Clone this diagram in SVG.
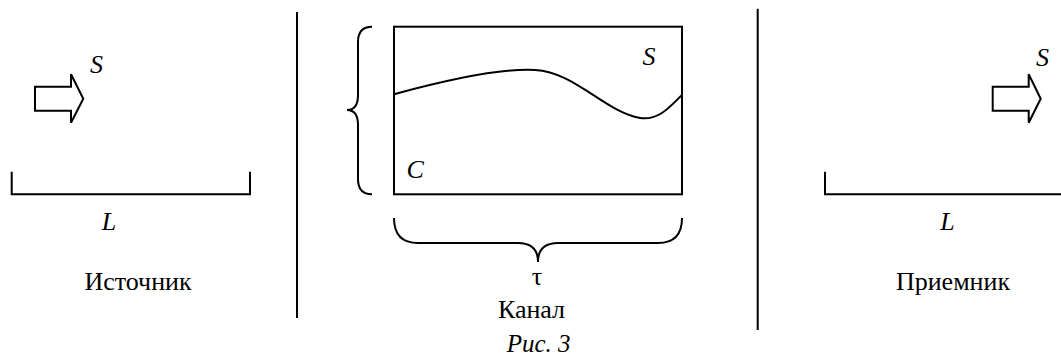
<svg xmlns="http://www.w3.org/2000/svg" width="1061" height="358" viewBox="0 0 1061 358">
<style>
.ln{fill:none;stroke:#000;stroke-width:2;stroke-linejoin:miter}
.ar{fill:#fff;stroke:#000;stroke-width:2;stroke-linejoin:miter}
.i{font-style:italic}
</style>
<rect width="1061" height="358" fill="#fff"/>
<g font-family="'Liberation Serif', 'Times New Roman', 'DejaVu Serif', serif" font-size="26" fill="#000">
<g id="source">
<polygon class="ar" points="35,86.7 71,86.7 71,74.3 83.3,98.7 71,122.7 71,110.7 35,110.7"/>
<text class="i" x="90" y="73">S</text>
<path class="ln" d="M11.7,171.7 V194.3 H250 V171.7"/>
<text class="i" x="109" y="230" text-anchor="middle">L</text>
<text x="138" y="290" text-anchor="middle">Источник</text>
</g>
<g id="channel">
<rect class="ln" x="394" y="26.7" width="288" height="167.6"/>
<path class="ln" d="M394,94.3 C450,79 500,68 535,70 C575,72 605,112 640,118 C660,121 672,104 682,95"/>
<text class="i" x="642.5" y="65">S</text>
<text class="i" x="406.5" y="178">C</text>
<path class="ln" d="M372,26.7 Q358,26.7 358,42 L358,95 Q358,110 347,110 Q358,110 358,125 L358,179 Q358,194.3 372,194.3"/>
<path class="ln" d="M394,218 Q394,243 418,243 L518,243 Q538,243 538,262 Q538,243 558,243 L658,243 Q682,243 682,218"/>
<text x="537" y="285" text-anchor="middle">τ</text>
<text x="531.5" y="318" text-anchor="middle">Канал</text>
</g>
<g id="receiver">
<polygon class="ar" points="992.7,86.7 1028.7,86.7 1028.7,74.3 1040.7,98.7 1028.7,122.7 1028.7,110.7 992.7,110.7"/>
<text class="i" x="1036" y="66">S</text>
<path class="ln" d="M825,171.7 V194.3 H1061"/>
<text class="i" x="947.5" y="230" text-anchor="middle">L</text>
<text x="953" y="289.5" text-anchor="middle">Приемник</text>
</g>
<g id="connectors">
<line class="ln" x1="297" y1="12" x2="297" y2="318"/>
<line class="ln" x1="757.7" y1="8.7" x2="757.7" y2="330"/>
</g>
<text class="i" x="538.7" y="352" font-size="25" text-anchor="middle">Рис. 3</text>
</g>
</svg>
